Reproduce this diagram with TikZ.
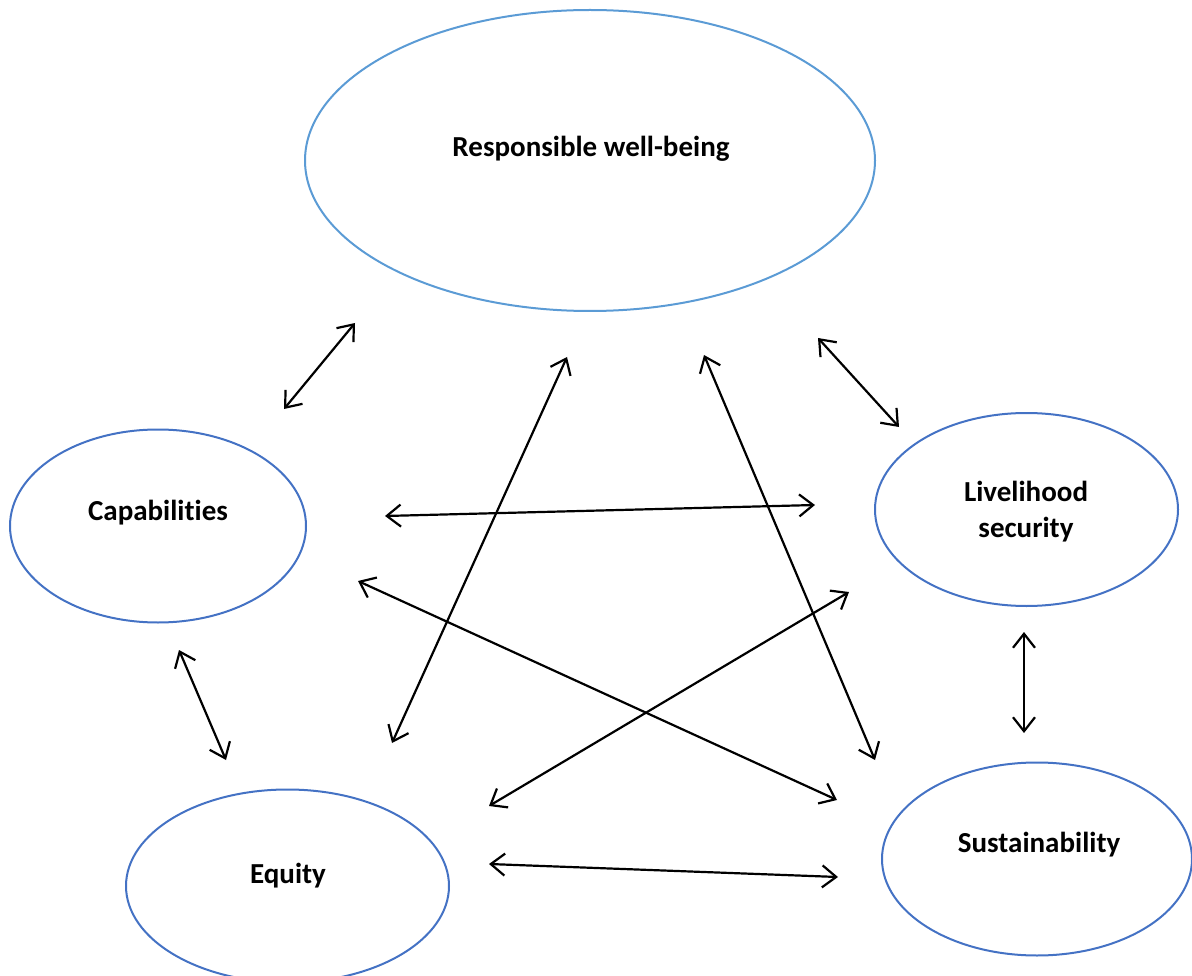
\documentclass[tikz,border=0pt]{standalone}
\usepackage{fontspec}
\setmainfont{Carlito}[Ligatures=NoCommon]
\usetikzlibrary{shapes.geometric,arrows.meta}
\definecolor{lightblue}{HTML}{5B9BD5}
\definecolor{darkblue}{HTML}{4472C4}
\tikzset{
  bubble/.style={ellipse, draw=darkblue, line width=2pt, inner sep=0pt},
  topbubble/.style={bubble, draw=lightblue},
  lbl/.style={font=\fontsize{29}{36}\selectfont\bfseries, align=center, inner sep=0pt},
  link/.style={line width=2.2pt, {Straight Barb[length=14pt,width=22pt]}-{Straight Barb[length=14pt,width=22pt]}}
}
\begin{document}
\begin{tikzpicture}[x=1pt,y=-1pt]
\useasboundingbox (0,0) rectangle (1192,976);
\clip (0,0) rectangle (1192,976);
% ellipses
\node[topbubble, minimum width=570pt, minimum height=301pt] (rwb) at (590,160.5) {};
\node[bubble, minimum width=296pt, minimum height=193pt] (cap) at (158,526) {};
\node[bubble, minimum width=303pt, minimum height=193pt] (liv) at (1026.5,509.5) {};
\node[bubble, minimum width=323pt, minimum height=193pt] (equ) at (287.5,886) {};
\node[bubble, minimum width=310pt, minimum height=193pt] (sus) at (1037,859) {};
% labels
\node[lbl] (rwbt) at (591,149) {Responsible well-being};
\node[lbl] (capt) at (158,513) {Capabilities};
\node[lbl] (livt) at (1026,512) {Livelihood\\security};
\node[lbl] (equt) at (288,876) {Equity};
\node[lbl] (sust) at (1039,845) {Sustainability};
% arrow end points
\coordinate (a1) at (355,323); \coordinate (b1) at (284,409);
\coordinate (a2) at (567,357); \coordinate (b2) at (392,743);
\coordinate (a3) at (704,355); \coordinate (b3) at (875,760);
\coordinate (a4) at (818,338); \coordinate (b4) at (899,427);
\coordinate (a5) at (385,516); \coordinate (b5) at (815,505);
\coordinate (a6) at (358,581); \coordinate (b6) at (837,800);
\coordinate (a7) at (849,592); \coordinate (b7) at (489,806);
\coordinate (a8) at (1024,632); \coordinate (b8) at (1024,733);
\coordinate (a9) at (179,650); \coordinate (b9) at (226,760);
\coordinate (a10) at (489,864); \coordinate (b10) at (838,877);
\foreach \i in {1,...,10} { \draw[link] (a\i) -- (b\i); }
\end{tikzpicture}
\end{document}
